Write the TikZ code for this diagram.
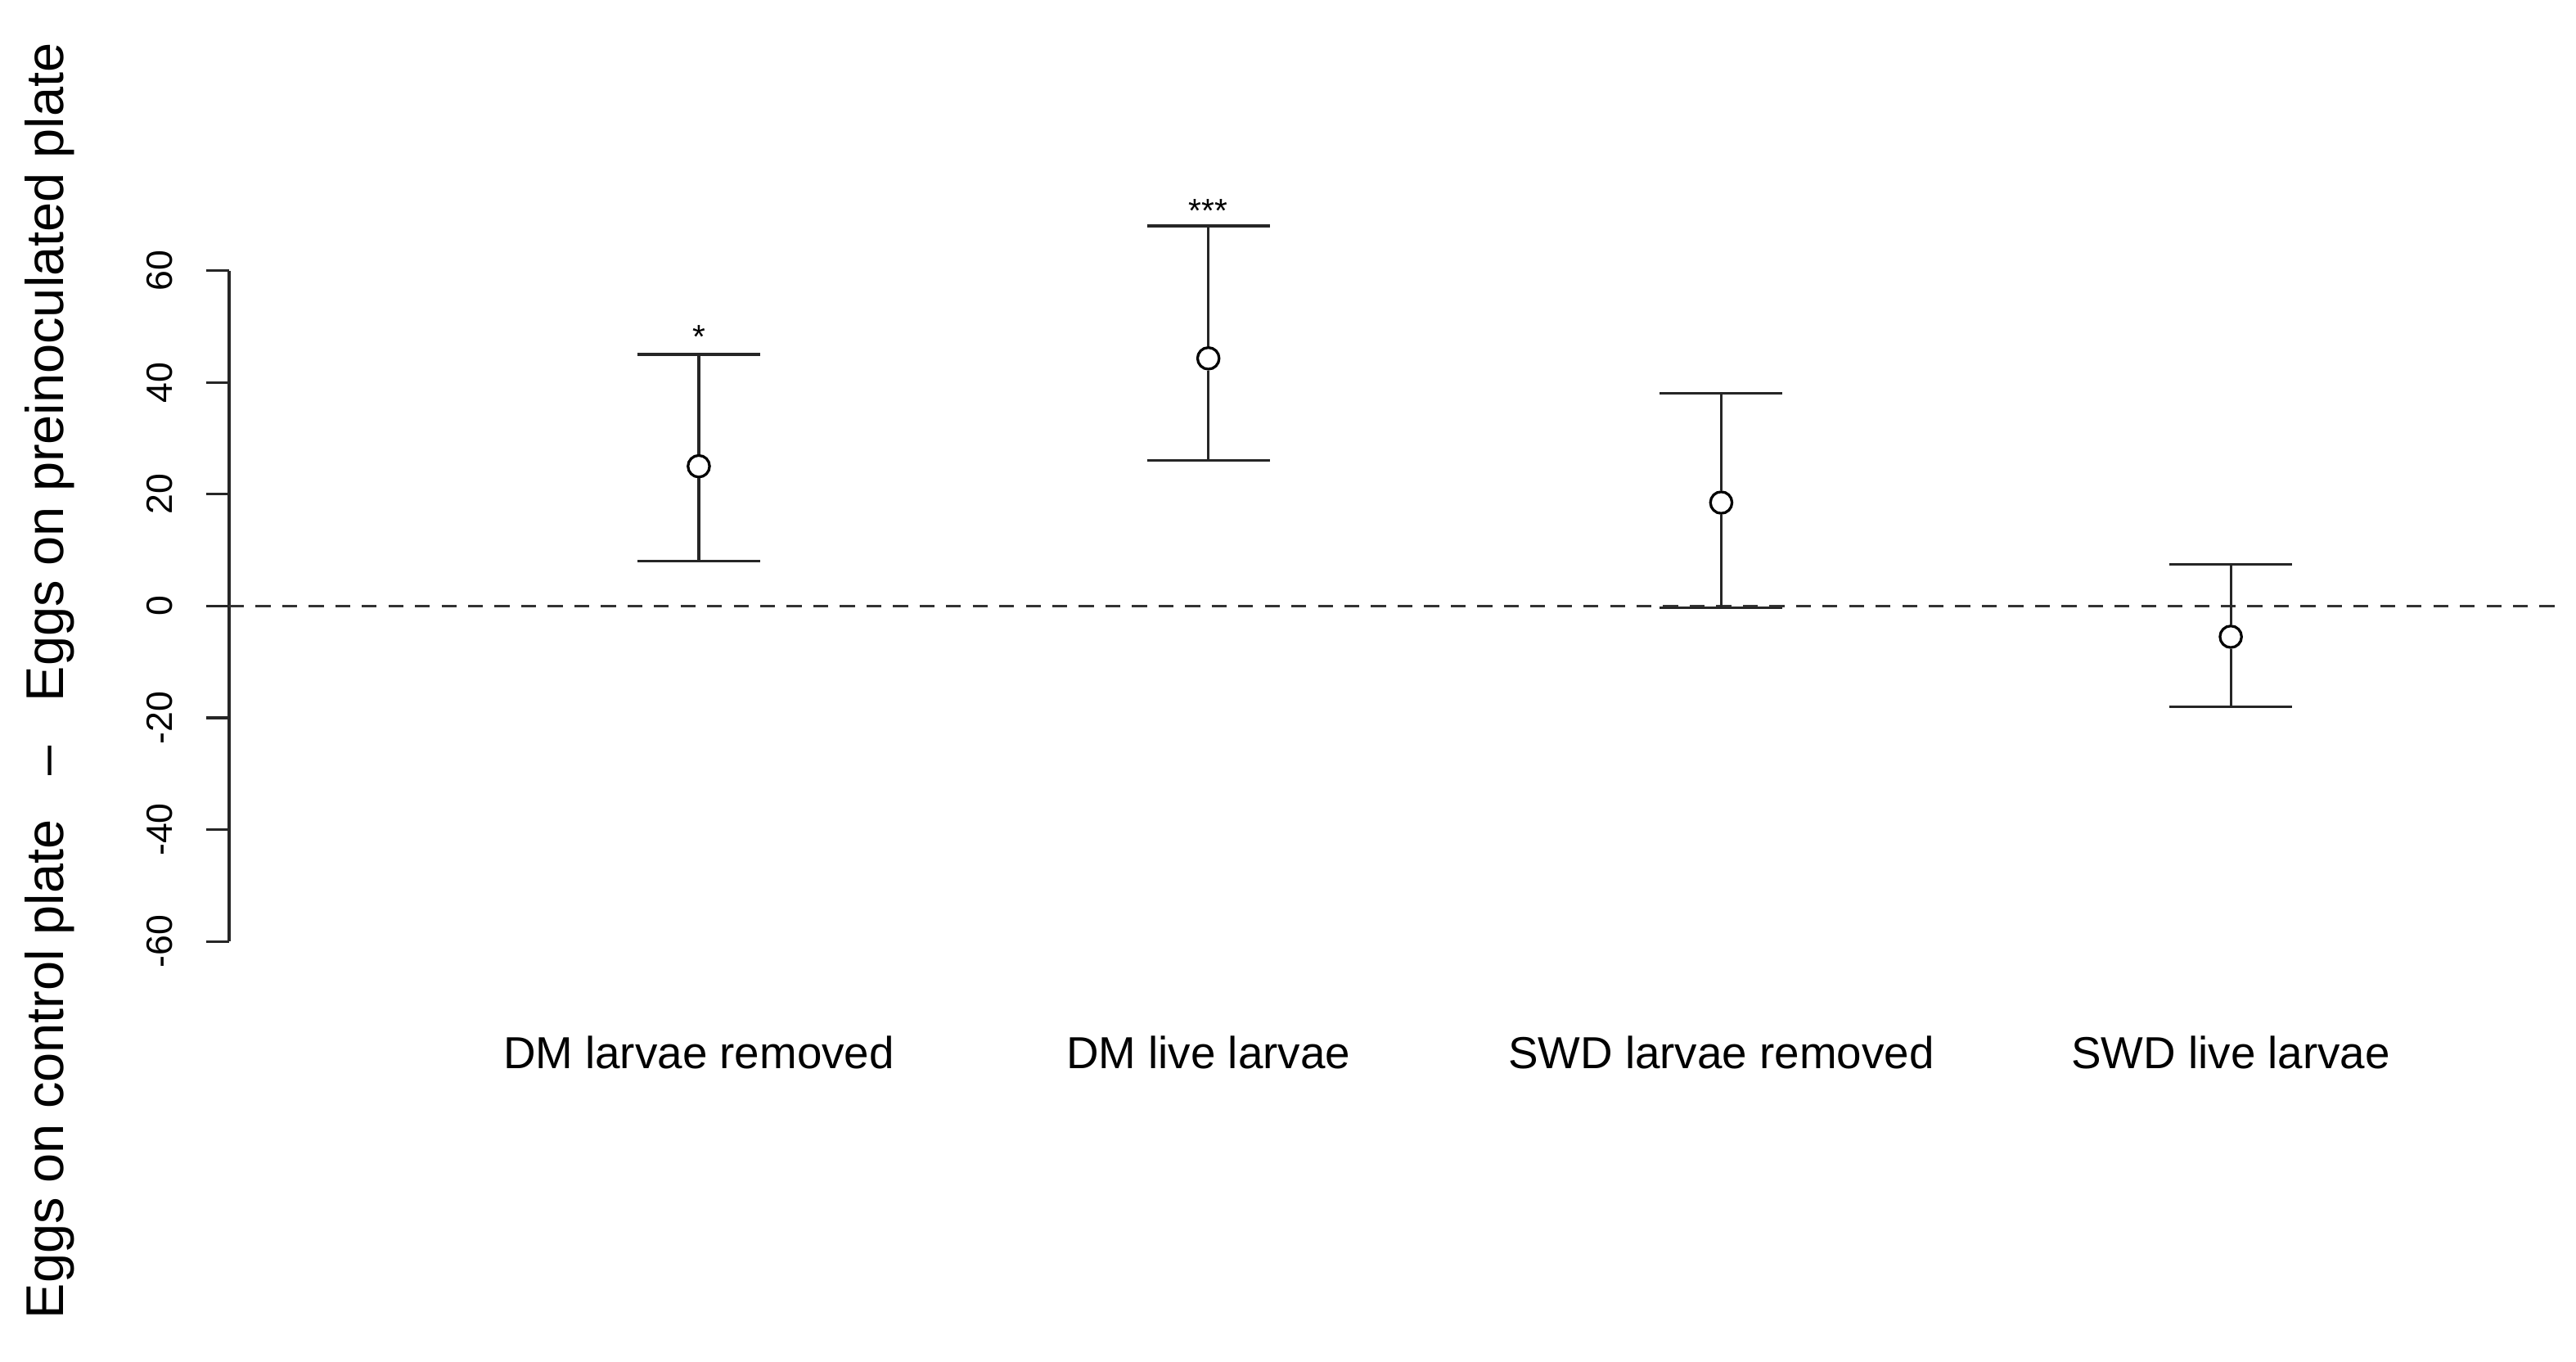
\documentclass[tikz,border=0pt]{standalone}
\usepackage{fontspec}
\setmainfont{Liberation Sans}
\begin{document}
\begin{tikzpicture}[x=1pt,y=-1pt,
  ln/.style={line width=1.6pt,black!85},
  pt/.style={circle,draw,line width=1.6pt,minimum size=13pt,inner sep=0pt},
  tick/.style={font=\fontsize{22}{22}\selectfont,rotate=90,anchor=center},
  cat/.style={font=\fontsize{27}{27}\selectfont}]
\useasboundingbox (0,0) rectangle (1552,820);
% axis
\draw[ln] (138,163) -- (138,567);
\foreach \v/\lab in {60/60,40/40,20/20,0/0,-20/-20,-40/-40,-60/-60}{
  \pgfmathsetmacro{\yy}{365-\v*3.367}
  \draw[ln] (138,\yy) -- (124,\yy);
  \node[tick] at (96,\yy) {\lab};
}
\node[font=\fontsize{32}{32}\selectfont,rotate=90] (ylab) at (30,410) {Eggs on control plate\ \ \ --\ \ \ Eggs on preinoculated plate};
% zero line
\coordinate (z0) at (138,365); \coordinate (z1) at (1545,365);
\draw[line width=1.4pt,black!80,dash pattern=on 9pt off 7pt] (z0) -- (z1);
% error bars
\foreach \n/\x/\lo/\hi/\m in {a/421/8/45/25, b/728/26/68/44.3, c/1037/-0.3/38/18.5, d/1344/-18/7.5/-5.5}{
  \pgfmathsetmacro{\ylo}{365-\lo*3.367}
  \pgfmathsetmacro{\yhi}{365-\hi*3.367}
  \pgfmathsetmacro{\ym}{365-\m*3.367}
  \coordinate (\n lo) at (\x,\ylo); \coordinate (\n hi) at (\x,\yhi);
  \node[pt] (\n m) at (\x,\ym) {};
  \draw[ln] (\n hi) -- (\n m.north) (\n m.south) -- (\n lo);
  \draw[ln] ([xshift=-37pt]\n lo) -- ([xshift=37pt]\n lo);
  \draw[ln] ([xshift=-37pt]\n hi) -- ([xshift=37pt]\n hi);
}
\node[font=\fontsize{20}{20}\selectfont] (s1) at (421,203) {*};
\node[font=\fontsize{20}{20}\selectfont] (s3) at (728,127) {***};
\node[cat] (c1) at (421,634) {DM larvae removed};
\node[cat] (c2) at (728,634) {DM live larvae};
\node[cat] (c3) at (1037,634) {SWD larvae removed};
\node[cat] (c4) at (1344,634) {SWD live larvae};
\end{tikzpicture}
\end{document}
